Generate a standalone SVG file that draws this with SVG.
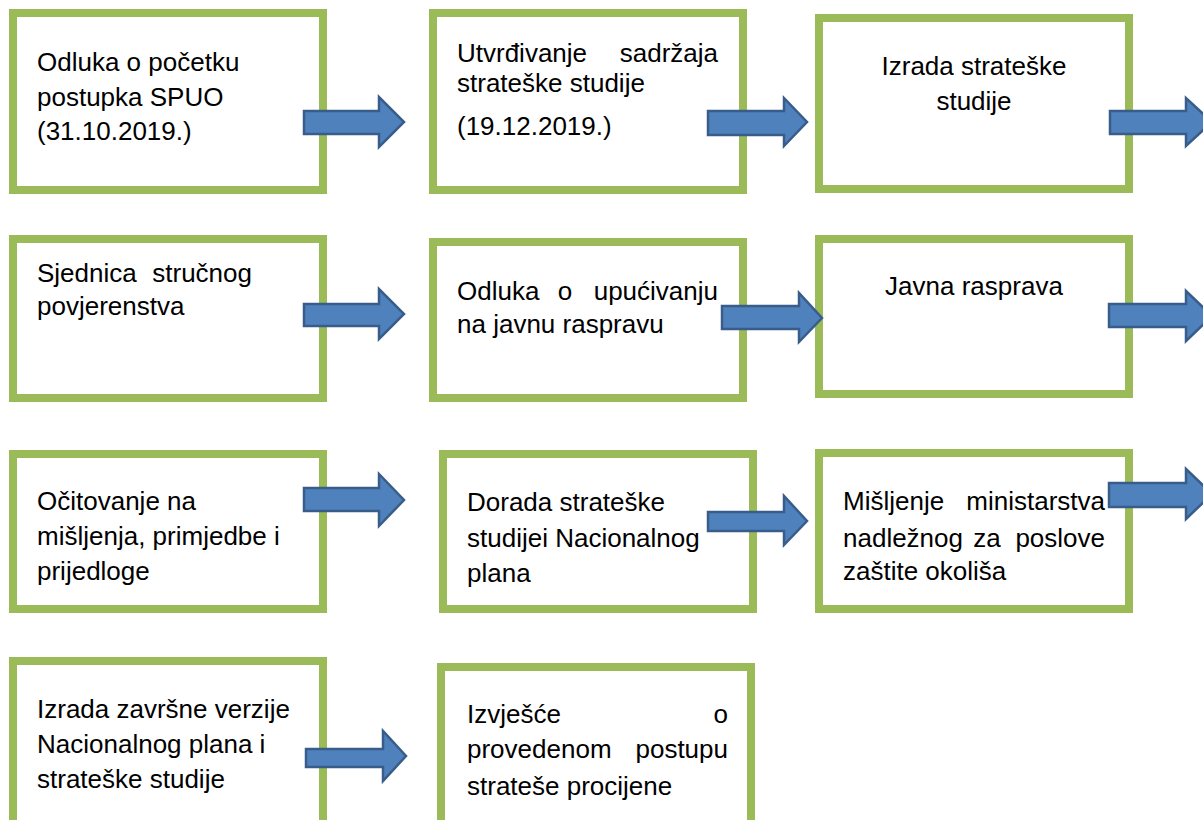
<svg xmlns="http://www.w3.org/2000/svg" width="1203" height="820" viewBox="0 0 1203 820">
<style>
.box{fill:#fff;stroke:#9BBB59;stroke-width:8}
.arr{fill:#4F81BD;stroke:#385D8A;stroke-width:2.5;stroke-linejoin:miter}
text{font-family:"Liberation Sans",Arial,sans-serif;font-size:26px;fill:#000}
.e{text-anchor:end}
.m{text-anchor:middle}
</style>
<rect width="1203" height="820" fill="#fff"/>
<g id="n1"><rect class="box" x="13" y="13" width="310" height="177"/>
<text x="37" y="71">Odluka o početku</text><text x="37" y="106">postupka SPUO</text><text x="37" y="140">(31.10.2019.)</text></g>
<g id="n2"><rect class="box" x="433" y="13" width="310" height="177"/>
<text x="457" y="62">Utvrđivanje</text><text class="e" x="718" y="62">sadržaja</text><text x="457" y="92">strateške studije</text><text x="457" y="135">(19.12.2019.)</text></g>
<g id="n3"><rect class="box" x="819" y="18" width="310" height="171"/>
<text class="m" x="974" y="75">Izrada strateške</text><text class="m" x="974" y="110">studije</text></g>
<g id="n4"><rect class="box" x="13" y="239" width="310" height="159"/>
<text x="37" y="282">Sjednica</text><text class="e" x="252" y="282">stručnog</text><text x="37" y="315">povjerenstva</text></g>
<g id="n5"><rect class="box" x="433" y="242" width="310" height="156"/>
<text x="457" y="300">Odluka</text><text class="m" x="565" y="300">o</text><text class="e" x="718" y="300">upućivanju</text><text x="457" y="333">na javnu raspravu</text></g>
<g id="n6"><rect class="box" x="819" y="239" width="310" height="155"/>
<text class="m" x="974" y="295">Javna rasprava</text></g>
<g id="n7"><rect class="box" x="13" y="454" width="310" height="155"/>
<text x="37" y="510">Očitovanje na</text><text x="37" y="545">mišljenja, primjedbe i</text><text x="37" y="580">prijedloge</text></g>
<g id="n8"><rect class="box" x="443" y="454" width="310" height="155"/>
<text x="467" y="511">Dorada strateške</text><text x="467" y="547">studijei Nacionalnog</text><text x="467" y="582">plana</text></g>
<g id="n9"><rect class="box" x="819" y="453" width="310" height="156"/>
<text x="843" y="510">Mišljenje</text><text class="e" x="1105" y="510">ministarstva</text>
<text x="843" y="547">nadležnog</text><text class="m" x="987" y="547">za</text><text class="e" x="1105" y="547">poslove</text>
<text x="843" y="580">zaštite okoliša</text></g>
<g id="n10"><rect class="box" x="13" y="661" width="310" height="170"/>
<text x="37" y="718">Izrada završne verzije</text><text x="37" y="753">Nacionalnog plana i</text><text x="37" y="788">strateške studije</text></g>
<g id="n11"><rect class="box" x="441" y="667" width="310" height="170"/>
<text x="467" y="723">Izvješće</text><text class="e" x="728" y="723">o</text>
<text x="467" y="758">provedenom</text><text class="e" x="728" y="758">postupu</text>
<text x="467" y="795">strateše procijene</text></g>
<g id="connectors">
<polygon class="arr" points="304,111 379,111 379,97 404,122 379,147 379,134 304,134"/>
<polygon class="arr" points="708,111 784,111 784,98 807,122 784,146 784,135 708,135"/>
<polygon class="arr" points="1110,111 1186,111 1186,98 1212,122 1186,146 1186,134 1110,134"/>
<polygon class="arr" points="304,304 379,304 379,289 404,314 379,339 379,326 304,326"/>
<polygon class="arr" points="722,306 799,306 799,293 822,318 799,342 799,329 722,329"/>
<polygon class="arr" points="1109,304 1186,304 1186,291 1212,316 1186,341 1186,327 1109,327"/>
<polygon class="arr" points="304,488 379,488 379,474 404,500 379,526 379,511 304,511"/>
<polygon class="arr" points="708,512 784,512 784,496 807,521 784,545 784,531 708,531"/>
<polygon class="arr" points="1109,483 1186,483 1186,469 1212,494 1186,519 1186,507 1109,507"/>
<polygon class="arr" points="306,749 383,749 383,731 406,756 383,781 383,767 306,767"/>
</g>
</svg>
